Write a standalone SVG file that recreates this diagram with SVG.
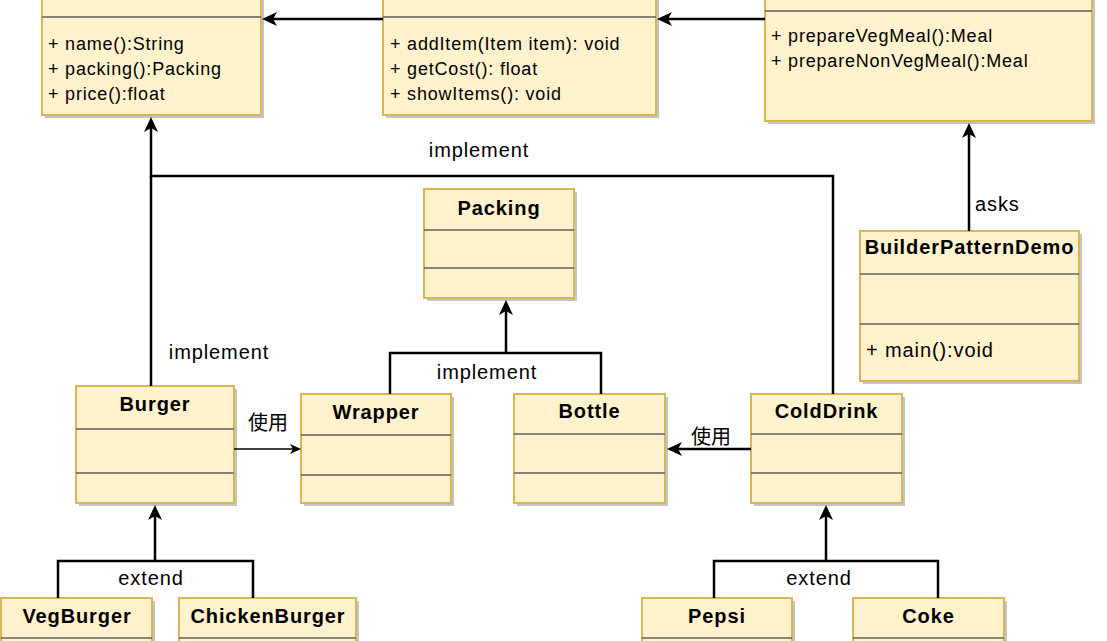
<svg xmlns="http://www.w3.org/2000/svg" width="1107" height="641" viewBox="0 0 1107 641">
<style>
.box{fill:#fff2cc;stroke:#d6b656;stroke-width:2}
.sh{fill:#c4c4c4}
.div{stroke:#5f5f5f;stroke-width:1.6;fill:none}
.t{font-family:"Liberation Sans",Arial,sans-serif;fill:#000}
.m{font-size:18px;letter-spacing:0.8px}
.l{font-size:20px;letter-spacing:0.9px}
.b{font-size:20px;font-weight:bold;letter-spacing:0.9px;text-anchor:middle}
.c{text-anchor:middle}
.cjk{font-family:"Liberation Sans","Noto Sans CJK SC",sans-serif;font-size:20px;fill:#000;text-anchor:middle}
.conn{fill:none;stroke:#000;stroke-width:2.5}
.thin{fill:none;stroke:#000;stroke-width:1.3}
</style>
<defs>
<marker id="arr" markerUnits="userSpaceOnUse" markerWidth="16" markerHeight="15" refX="4" refY="7" orient="auto">
<path d="M0,0 L15,7 L0,14 L4,7 Z" fill="#000"/>
</marker>
<marker id="arrs" markerUnits="userSpaceOnUse" markerWidth="12" markerHeight="11" refX="3" refY="5" orient="auto">
<path d="M0,0 L11,5 L0,10 L3,5 Z" fill="#000"/>
</marker>
</defs>
<rect width="1107" height="641" fill="#fff"/>

<g id="Item">
<rect class="sh" x="45" y="-20" width="219" height="138"/>
<rect class="box" x="42" y="-20" width="219" height="135"/>
<line class="div" x1="42" y1="17" x2="261" y2="17"/>
<text class="t m" x="48" y="50">+ name():String</text>
<text class="t m" x="48" y="75">+ packing():Packing</text>
<text class="t m" x="48" y="100">+ price():float</text>
</g>

<g id="Meal">
<rect class="sh" x="386" y="-20" width="273" height="138"/>
<rect class="box" x="383" y="-20" width="273" height="135"/>
<line class="div" x1="383" y1="17" x2="656" y2="17"/>
<text class="t m" x="390" y="50">+ addItem(Item item): void</text>
<text class="t m" x="390" y="75">+ getCost(): float</text>
<text class="t m" x="390" y="100">+ showItems(): void</text>
</g>

<g id="MealBuilder">
<rect class="sh" x="768" y="-20" width="327" height="144"/>
<rect class="box" x="765" y="-20" width="327" height="141"/>
<line class="div" x1="765" y1="11" x2="1092" y2="11"/>
<text class="t m" x="771" y="42">+ prepareVegMeal():Meal</text>
<text class="t m" x="771" y="67">+ prepareNonVegMeal():Meal</text>
</g>

<g id="Packing">
<rect class="sh" x="427" y="192" width="150" height="109"/>
<rect class="box" x="424" y="189" width="150" height="109"/>
<line class="div" x1="424" y1="230" x2="574" y2="230"/>
<line class="div" x1="424" y1="268" x2="574" y2="268"/>
<text class="t b" x="499" y="215">Packing</text>
</g>

<g id="BuilderPatternDemo">
<rect class="sh" x="863" y="234" width="219" height="150"/>
<rect class="box" x="860" y="231" width="219" height="150"/>
<line class="div" x1="860" y1="274" x2="1079" y2="274"/>
<line class="div" x1="860" y1="324" x2="1079" y2="324"/>
<text class="t b" x="969.5" y="254">BuilderPatternDemo</text>
<text class="t l" x="866" y="357">+ main():void</text>
</g>

<g id="Burger">
<rect class="sh" x="79" y="389" width="158" height="117"/>
<rect class="box" x="76" y="386" width="158" height="117"/>
<line class="div" x1="76" y1="429" x2="234" y2="429"/>
<line class="div" x1="76" y1="473" x2="234" y2="473"/>
<text class="t b" x="155" y="411">Burger</text>
</g>

<g id="Wrapper">
<rect class="sh" x="304" y="397" width="150" height="109"/>
<rect class="box" x="301" y="394" width="150" height="109"/>
<line class="div" x1="301" y1="435" x2="451" y2="435"/>
<line class="div" x1="301" y1="475" x2="451" y2="475"/>
<text class="t b" x="376" y="419">Wrapper</text>
</g>

<g id="Bottle">
<rect class="sh" x="517" y="397" width="151" height="109"/>
<rect class="box" x="514" y="394" width="151" height="109"/>
<line class="div" x1="514" y1="434" x2="665" y2="434"/>
<line class="div" x1="514" y1="473" x2="665" y2="473"/>
<text class="t b" x="589.5" y="418">Bottle</text>
</g>

<g id="ColdDrink">
<rect class="sh" x="754" y="397" width="151" height="109"/>
<rect class="box" x="751" y="394" width="151" height="109"/>
<line class="div" x1="751" y1="434" x2="902" y2="434"/>
<line class="div" x1="751" y1="473" x2="902" y2="473"/>
<text class="t b" x="826.5" y="418">ColdDrink</text>
</g>

<g id="VegBurger">
<rect class="sh" x="4" y="601" width="151" height="60"/>
<rect class="box" x="1" y="598" width="151" height="60"/>
<line class="div" x1="1" y1="638" x2="152" y2="638"/>
<text class="t b" x="77" y="623">VegBurger</text>
</g>

<g id="ChickenBurger">
<rect class="sh" x="182" y="601" width="177" height="60"/>
<rect class="box" x="179" y="598" width="177" height="60"/>
<line class="div" x1="179" y1="638" x2="356" y2="638"/>
<text class="t b" x="268" y="623">ChickenBurger</text>
</g>

<g id="Pepsi">
<rect class="sh" x="645" y="601" width="150" height="60"/>
<rect class="box" x="642" y="598" width="150" height="60"/>
<line class="div" x1="642" y1="638" x2="792" y2="638"/>
<text class="t b" x="717" y="623">Pepsi</text>
</g>

<g id="Coke">
<rect class="sh" x="856" y="601" width="151" height="60"/>
<rect class="box" x="853" y="598" width="151" height="60"/>
<line class="div" x1="853" y1="638" x2="1004" y2="638"/>
<text class="t b" x="928.5" y="623">Coke</text>
</g>

<g id="connectors">
<path class="conn" d="M765,19 H668" marker-end="url(#arr)"/>
<path class="conn" d="M383,19 H273" marker-end="url(#arr)"/>
<path class="conn" d="M833,394 V176 H151 V128" marker-end="url(#arr)"/>
<path class="conn" d="M151,386 V176"/>
<path class="conn" d="M390,394 V353 H601 V394"/>
<path class="conn" d="M506,353 V311" marker-end="url(#arr)"/>
<path class="thin" d="M234,449 H293" marker-end="url(#arrs)"/>
<path class="conn" d="M751,449 H678" marker-end="url(#arr)"/>
<path class="conn" d="M58,598 V561 H253 V598"/>
<path class="conn" d="M155,561 V516" marker-end="url(#arr)"/>
<path class="conn" d="M714,598 V561 H938 V598"/>
<path class="conn" d="M826,561 V516" marker-end="url(#arr)"/>
<path class="conn" d="M969,231 V134" marker-end="url(#arr)"/>
<text class="t l c" x="479" y="157">implement</text>
<text class="t l c" x="219" y="359">implement</text>
<text class="t l c" x="487" y="379">implement</text>
<text class="t l c" x="151" y="585">extend</text>
<text class="t l c" x="819" y="585">extend</text>
<text class="t l" x="975" y="211">asks</text>
<text class="cjk" x="268" y="430">使用</text>
<text class="cjk" x="711" y="444">使用</text>
</g>
</svg>
